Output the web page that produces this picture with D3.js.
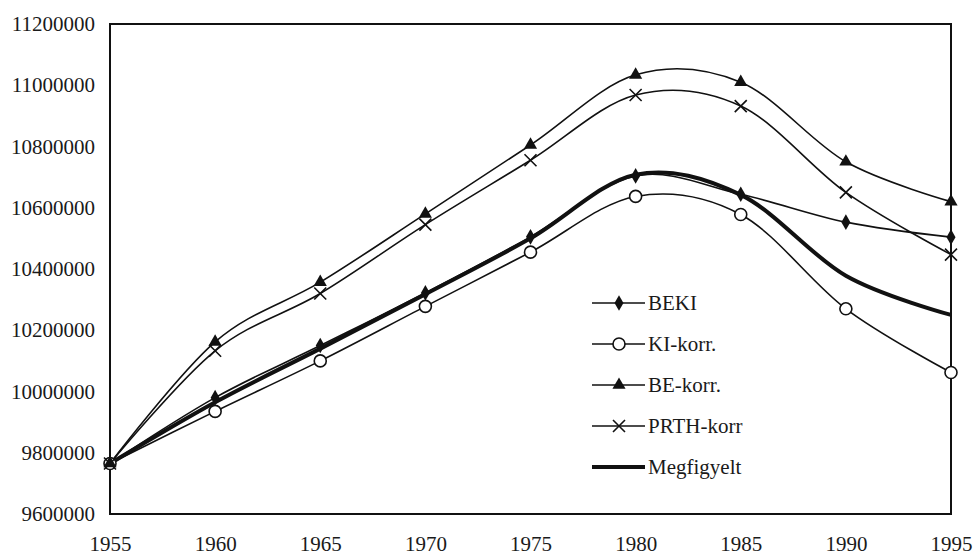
<!DOCTYPE html>
<html>
<head>
<meta charset="utf-8">
<script src="https://cdn.jsdelivr.net/npm/d3@7"></script>
<style>
  body { margin: 0; background: #fff; }
  svg text { font-family: "Liberation Serif", "Times New Roman", serif; fill: #1a1a1a; }
</style>
</head>
<body>
<svg id="chart" width="977" height="557"></svg>
<script>
// data
const years = [1955, 1960, 1965, 1970, 1975, 1980, 1985, 1990, 1995];
const beki = [9765000, 9980000, 10150000, 10322000, 10505000, 10704000, 10644000, 10553000, 10504000];
const kiKorr = [9765000, 9935000, 10100000, 10278000, 10455000, 10637000, 10578000, 10270000, 10062000];
const beKorr = [9765000, 10162000, 10357000, 10580000, 10805000, 11034000, 11010000, 10750000, 10620000];
const prthKorr = [9765000, 10133000, 10320000, 10545000, 10755000, 10968000, 10932000, 10650000, 10447000];
const megfigyelt = [9765000, 9965000, 10140000, 10318000, 10500000, 10708000, 10642000, 10378000, 10250000];
const yTicks = [9600000, 9800000, 10000000, 10200000, 10400000, 10600000, 10800000, 11000000, 11200000];

const series = [
  { name: "BEKI", values: beki, marker: "diamond", width: 1.6 },
  { name: "KI-korr.", values: kiKorr, marker: "circle", width: 1.6 },
  { name: "BE-korr.", values: beKorr, marker: "triangle", width: 1.6 },
  { name: "PRTH-korr", values: prthKorr, marker: "cross", width: 1.6 },
  { name: "Megfigyelt", values: megfigyelt, marker: null, width: 4 }
];

const svg = d3.select("#chart");
const margin = { left: 110, top: 24, right: 26, bottom: 43 };
const width = 977 - margin.left - margin.right;
const height = 557 - margin.top - margin.bottom;

const x = d3.scaleLinear().domain([1955, 1995]).range([0, width]);
const y = d3.scaleLinear().domain([9600000, 11200000]).range([height, 0]);

const g = svg.append("g").attr("transform", "translate(" + margin.left + "," + margin.top + ")");

// axes, labels only
const xAxis = g.append("g")
  .attr("transform", "translate(0," + height + ")")
  .call(d3.axisBottom(x).tickValues(years).tickFormat(d3.format("d")).tickSize(0).tickPadding(22));
xAxis.select(".domain").remove();
xAxis.selectAll("text").style("font-size", "21px");

const yAxis = g.append("g")
  .call(d3.axisLeft(y).tickValues(yTicks).tickFormat(d3.format("d")).tickSize(0).tickPadding(15));
yAxis.select(".domain").remove();
yAxis.selectAll("text").style("font-size", "21px");

// frame
g.append("rect")
  .attr("width", width).attr("height", height)
  .attr("fill", "none").attr("stroke", "#111").attr("stroke-width", 2);

const line = d3.line()
  .x((d, i) => x(years[i]))
  .y(d => y(d))
  .curve(d3.curveCatmullRom.alpha(0));

function drawMarker(sel, type) {
  if (type === "diamond") {
    sel.append("path").attr("d", d3.symbol(d3.symbolDiamond, 70)()).attr("fill", "#111");
  } else if (type === "circle") {
    sel.append("circle").attr("r", 6).attr("fill", "#fff").attr("stroke", "#111").attr("stroke-width", 1.6);
  } else if (type === "triangle") {
    sel.append("path").attr("d", d3.symbol(d3.symbolTriangle, 75)()).attr("fill", "#111");
  } else if (type === "cross") {
    sel.append("path").attr("d", "M-6,-6L6,6M-6,6L6,-6").attr("stroke", "#111").attr("stroke-width", 1.6);
  }
}

series.forEach(s => {
  g.append("path")
    .datum(s.values)
    .attr("d", line)
    .attr("fill", "none")
    .attr("stroke", "#111")
    .attr("stroke-width", s.width);
});

series.forEach(s => {
  if (!s.marker) return;
  s.values.forEach((v, i) => {
    const m = g.append("g").attr("transform", "translate(" + x(years[i]) + "," + y(v) + ")");
    drawMarker(m, s.marker);
  });
});

// legend
const legend = svg.append("g").attr("transform", "translate(592,303)");
series.forEach((s, i) => {
  const row = legend.append("g").attr("transform", "translate(0," + (i * 41) + ")");
  row.append("line").attr("x1", 0).attr("x2", 53).attr("y1", 0).attr("y2", 0)
    .attr("stroke", "#111").attr("stroke-width", s.width);
  if (s.marker) drawMarker(row.append("g").attr("transform", "translate(27,0)"), s.marker);
  row.append("text").attr("x", 56).attr("y", 0).attr("dy", "0.35em")
    .style("font-size", "21px").text(s.name);
});
</script>
</body>
</html>
